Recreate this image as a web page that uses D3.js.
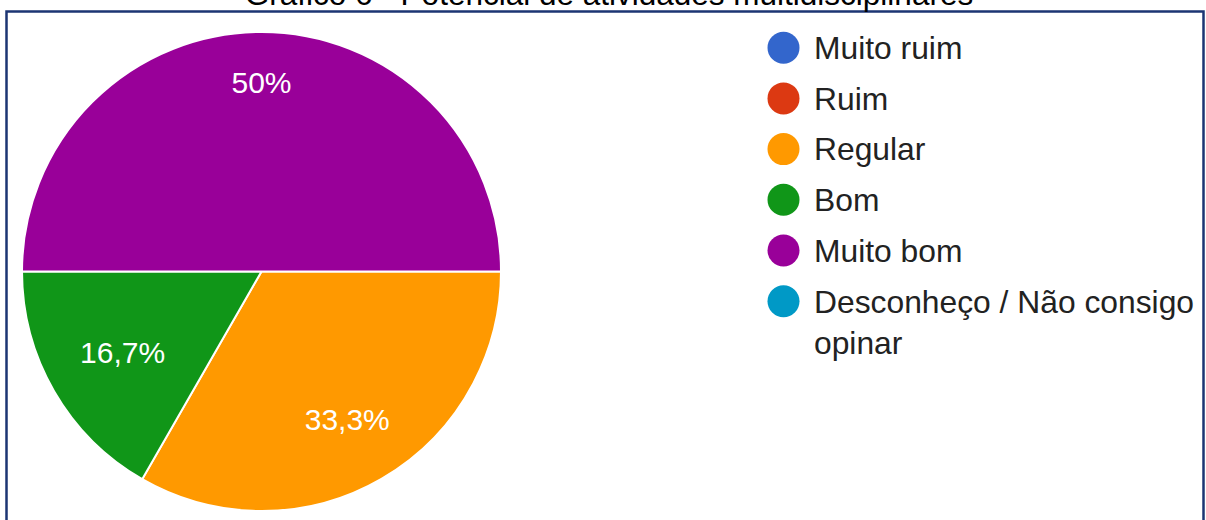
<!DOCTYPE html>
<html>
<head>
<meta charset="utf-8">
<script src="https://cdn.jsdelivr.net/npm/d3@7"></script>
<style>
  body { margin: 0; background: #fff; }
  svg { display: block; font-family: "Liberation Sans", Arial, sans-serif; }
</style>
</head>
<body>
<div id="chart"></div>
<script>
var title = "Gráfico 6 - Potencial de atividades multidisciplinares";
var categories = ["Muito ruim", "Ruim", "Regular", "Bom", "Muito bom", "Desconheço / Não consigo opinar"];
var legendLines = [["Muito ruim"], ["Ruim"], ["Regular"], ["Bom"], ["Muito bom"], ["Desconheço / Não consigo", "opinar"]];
var values = [0, 0, 33.3, 16.7, 50, 0];
var labels = ["0%", "0%", "33,3%", "16,7%", "50%", "0%"];
var colors = ["#3366cc", "#dc3912", "#ff9900", "#109618", "#990099", "#0099c6"];

var width = 1206, height = 520;
var cx = 261.5, cy = 271.5, radius = 239.5;

var svg = d3.select("#chart").append("svg")
    .attr("width", width)
    .attr("height", height);

// frame around the chart (bottom edge falls outside the picture)
svg.append("rect")
    .attr("x", 6.5)
    .attr("y", 11.5)
    .attr("width", 1197)
    .attr("height", 530)
    .attr("fill", "none")
    .attr("stroke", "#1c3573")
    .attr("stroke-width", 2.5);

// title, cut off at the top like in the source
svg.append("text")
    .attr("x", 609)
    .attr("y", 4.5)
    .attr("text-anchor", "middle")
    .attr("font-size", "31.5px")
    .attr("fill", "#000")
    .text(title);

var data = categories.map(function(c, i) {
  return { name: c, value: values[i], label: labels[i], color: colors[i] };
});

var pie = d3.pie()
    .sort(null)
    .value(function(d) { return d.value; })
    .startAngle(Math.PI / 2)
    .endAngle(Math.PI / 2 + 2 * Math.PI);

var arc = d3.arc().innerRadius(0).outerRadius(radius);

var g = svg.append("g")
    .attr("transform", "translate(" + cx + "," + cy + ")");

var arcs = pie(data).filter(function(d) { return d.data.value > 0; });

g.selectAll("path")
    .data(arcs)
    .join("path")
    .attr("d", arc)
    .attr("fill", function(d) { return d.data.color; })
    .attr("stroke", "#fff")
    .attr("stroke-width", 2);

// bigger slices push the label further out
var total = d3.sum(values);
var labelR = d3.scalePow().exponent(2).domain([1 / 6, 1 / 2]).range([0.67, 0.79]);

g.selectAll("text.pct")
    .data(arcs)
    .join("text")
    .attr("class", "pct")
    .attr("transform", function(d) {
      var a = (d.startAngle + d.endAngle) / 2;
      var r = radius * labelR(d.data.value / total);
      return "translate(" + (Math.sin(a) * r) + "," + (-Math.cos(a) * r) + ")";
    })
    .attr("text-anchor", "middle")
    .attr("dy", "0.36em")
    .attr("font-size", "30px")
    .attr("fill", "#fff")
    .text(function(d) { return d.data.label; });

// legend
var rowY = d3.scaleLinear().domain([0, 1]).range([59, 109.7]);

var legend = svg.append("g").selectAll("g")
    .data(data)
    .join("g")
    .attr("transform", function(d, i) { return "translate(0," + rowY(i) + ")"; });

legend.append("circle")
    .attr("cx", 783.5)
    .attr("cy", -11.3)
    .attr("r", 16)
    .attr("fill", function(d) { return d.color; });

legend.append("text")
    .attr("x", 814)
    .attr("font-size", "31.8px")
    .attr("fill", "#222")
    .selectAll("tspan")
    .data(function(d, i) { return legendLines[i]; })
    .join("tspan")
    .attr("x", 814)
    .attr("dy", function(d, j) { return j === 0 ? 0 : 41.5; })
    .text(function(d) { return d; });
</script>
</body>
</html>
